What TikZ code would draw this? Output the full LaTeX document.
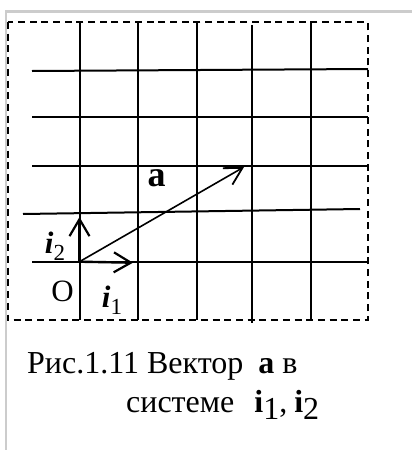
\documentclass[tikz,border=0pt]{standalone}
\usepackage{fontspec}
\setmainfont{Liberation Serif}
\usetikzlibrary{arrows.meta}
\begin{document}
\begin{tikzpicture}[x=1pt,y=-1pt,
  frame/.style={draw=black!20,line width=2.4pt},
  dashbox/.style={draw=black,line width=2pt,dash pattern=on 7pt off 4.7pt},
  gridline/.style={draw=black,line width=2pt},
  basisvec/.style={draw=black,line width=2.4pt,-{Straight Barb[length=17pt,width=20pt,line width=2.2pt]}},
  mainvec/.style={draw=black,line width=1.6pt,-{Straight Barb[length=17pt,width=19pt,line width=1.8pt]}},
  lbl/.style={inner sep=0pt,font=\fontsize{31}{34}\selectfont},
  captext/.style={inner sep=0pt,anchor=base west,font=\fontsize{32}{36}\selectfont}]
\useasboundingbox (0,0) rectangle (412,450);
% outer gray frame
\draw[frame] (6,450) -- (6,11.3) -- (412,11.3);
% dashed box
\draw[dashbox] (7.5,22) rectangle (367.5,320);
% vertical grid lines
\draw[gridline] (79.5,22) -- (79.5,320);
\draw[gridline] (138,22) -- (138,320);
\draw[gridline] (196.5,22) -- (196.5,320);
\draw[gridline] (251.5,25) -- (251.5,323);
\draw[gridline] (310.5,22) -- (310.5,320);
% horizontal grid lines
\draw[gridline] (32,71) -- (368,69);
\draw[gridline] (32,117) -- (368,117);
\draw[gridline] (32,165.7) -- (368,165.7);
\draw[gridline] (23,214) -- (360,209);
\draw[gridline] (32,261.7) -- (368,261.7);
% vectors
\coordinate (O) at (79.5,261.7);
\coordinate (e1) at (133,262.7);
\coordinate (e2) at (79.5,217);
\coordinate (av) at (244,167);
\draw[basisvec] (O) -- (e1);
\draw[basisvec] (O) -- (e2);
\draw[mainvec] (O) -- (av);
% labels
\node[lbl,font=\fontsize{36}{38}\selectfont\bfseries] (la) at (156.5,178.5) {a};
\node[lbl] (lO) at (62.5,291.7) {O};
\node[lbl,anchor=base] (li2) at (55,253) {\textbf{\textit{i}}\raisebox{-7pt}{\fontsize{23}{23}\selectfont 2}};
\node[lbl,anchor=base] (li1) at (112,307) {\textbf{\textit{i}}\raisebox{-7pt}{\fontsize{23}{23}\selectfont 1}};
% caption
\node[captext] (c1) at (27,373) {Рис.1.11 Вектор\hspace{15pt}\textbf{a} в};
\node[captext] (c2) at (126,412) {системе\hspace{20pt}\textbf{i}\raisebox{-7pt}{1},\hspace{7pt}\textbf{i}\raisebox{-7pt}{2}};
\end{tikzpicture}
\end{document}
